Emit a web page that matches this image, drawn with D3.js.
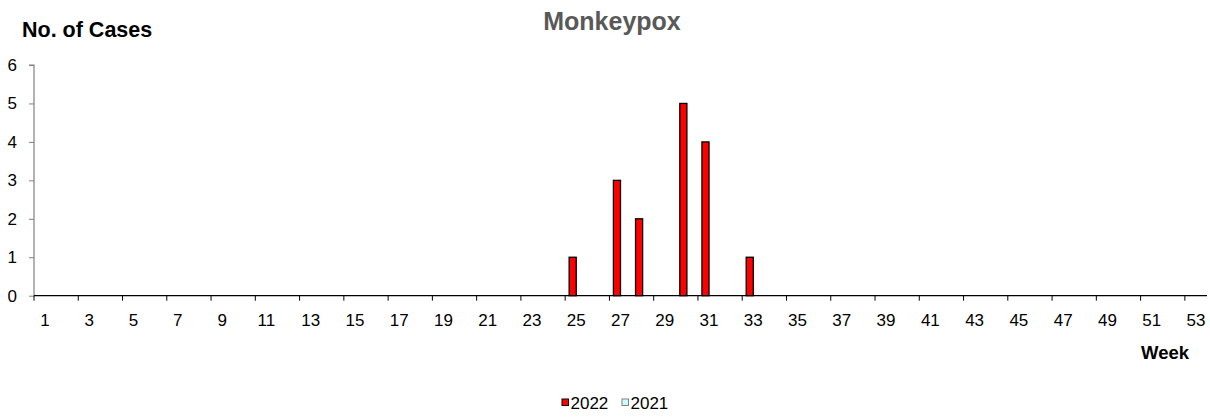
<!DOCTYPE html>
<html>
<head>
<meta charset="utf-8">
<script src="https://cdn.jsdelivr.net/npm/d3@7"></script>
<style>
  html, body { margin: 0; padding: 0; background: #fff; }
  svg { display: block; font-family: "Liberation Sans", Arial, sans-serif; }
</style>
</head>
<body>
<svg id="chart" width="1210" height="417"></svg>
<script>
// ---- data ----
const weeks = d3.range(1, 54);               // weeks 1..53
const seriesNames = ["2022", "2021"];
const cases2022 = weeks.map(w => ({25: 1, 27: 3, 28: 2, 30: 5, 31: 4, 33: 1})[w] || 0);
const cases2021 = weeks.map(() => 0);
const yTicks = [0, 1, 2, 3, 4, 5, 6];
const xTickLabels = weeks.filter(w => w % 2 === 1);
const titleText = "Monkeypox";
const yTitle = "No. of Cases";
const xTitle = "Week";

const colors = {"2022": "#FF0000", "2021": "#CCFFFF"};
const strokes = {"2022": "#000000", "2021": "#808080"};

const svg = d3.select("#chart");
const mLeft = 34, mRight = 1207, mTop = 65, mBottom = 295.7;

const x = d3.scaleBand().domain(weeks).range([mLeft, mRight]).paddingInner(0).paddingOuter(0);
const xs = d3.scaleBand().domain(seriesNames).range([0, x.bandwidth()]).paddingInner(0).paddingOuter(0.56);
const y = d3.scaleLinear().domain([0, 6]).range([mBottom, mTop]);

// titles
svg.append("text").attr("x", 612).attr("y", 30).attr("text-anchor", "middle")
  .attr("font-size", 25).attr("font-weight", "bold").attr("fill", "#595959").text(titleText);
svg.append("text").attr("x", 22).attr("y", 37)
  .attr("font-size", 21.5).attr("font-weight", "bold").attr("fill", "#000").text(yTitle);
svg.append("text").attr("x", 1189).attr("y", 359).attr("text-anchor", "end")
  .attr("font-size", 18.5).attr("font-weight", "bold").attr("fill", "#000").text(xTitle);

// y axis
const yAxis = d3.axisLeft(y).tickValues(yTicks).tickSize(5).tickPadding(12).tickFormat(d3.format("d"));
const gy = svg.append("g").attr("transform", `translate(${mLeft},0)`).call(yAxis);
gy.select(".domain").attr("stroke", "#808080").attr("stroke-width", 1.2).attr("d", `M-5,${mTop}H0V${mBottom}`);
gy.selectAll(".tick line").attr("stroke", "#808080");
gy.selectAll(".tick text").attr("font-size", 17).attr("fill", "#000")
  .attr("font-family", "Liberation Sans, Arial, sans-serif");

// bars
const series = [{name: "2022", vals: cases2022}, {name: "2021", vals: cases2021}];
series.forEach(s => {
  svg.append("g").selectAll("rect").data(weeks.map((w, i) => ({w, v: s.vals[i]})).filter(d => d.v > 0))
    .join("rect")
    .attr("x", d => x(d.w) + xs(s.name))
    .attr("width", xs.bandwidth())
    .attr("y", d => y(d.v))
    .attr("height", d => y(0) - y(d.v))
    .attr("fill", colors[s.name])
    .attr("stroke", strokes[s.name])
    .attr("stroke-width", 1.3);
});

// x axis
const gx = svg.append("g").attr("transform", `translate(0,${mBottom})`);
gx.append("line").attr("x1", mLeft).attr("x2", mRight).attr("y1", 0).attr("y2", 0)
  .attr("stroke", "#000").attr("stroke-width", 1.3);
const tickBounds = weeks.filter(w => w % 2 === 1);
gx.selectAll("line.tk").data(tickBounds).join("line").attr("class", "tk")
  .attr("x1", d => x(d)).attr("x2", d => x(d)).attr("y1", 0).attr("y2", 5)
  .attr("stroke", "#000").attr("stroke-width", 1);
gx.selectAll("text").data(xTickLabels).join("text")
  .attr("x", d => x(d) + x.bandwidth() / 2).attr("y", 30)
  .attr("text-anchor", "middle").attr("font-size", 17).attr("fill", "#000").text(d => d);

// legend
const lg = svg.append("g");
const legendItems = [{name: "2022", x: 562}, {name: "2021", x: 622}];
legendItems.forEach(it => {
  lg.append("rect").attr("x", it.x).attr("y", 399).attr("width", 6.5).attr("height", 6.5)
    .attr("fill", colors[it.name]).attr("stroke", strokes[it.name]).attr("stroke-width", 1);
  lg.append("text").attr("x", it.x + 8.5).attr("y", 409).attr("font-size", 17).attr("fill", "#000").text(it.name);
});
</script>
</body>
</html>
